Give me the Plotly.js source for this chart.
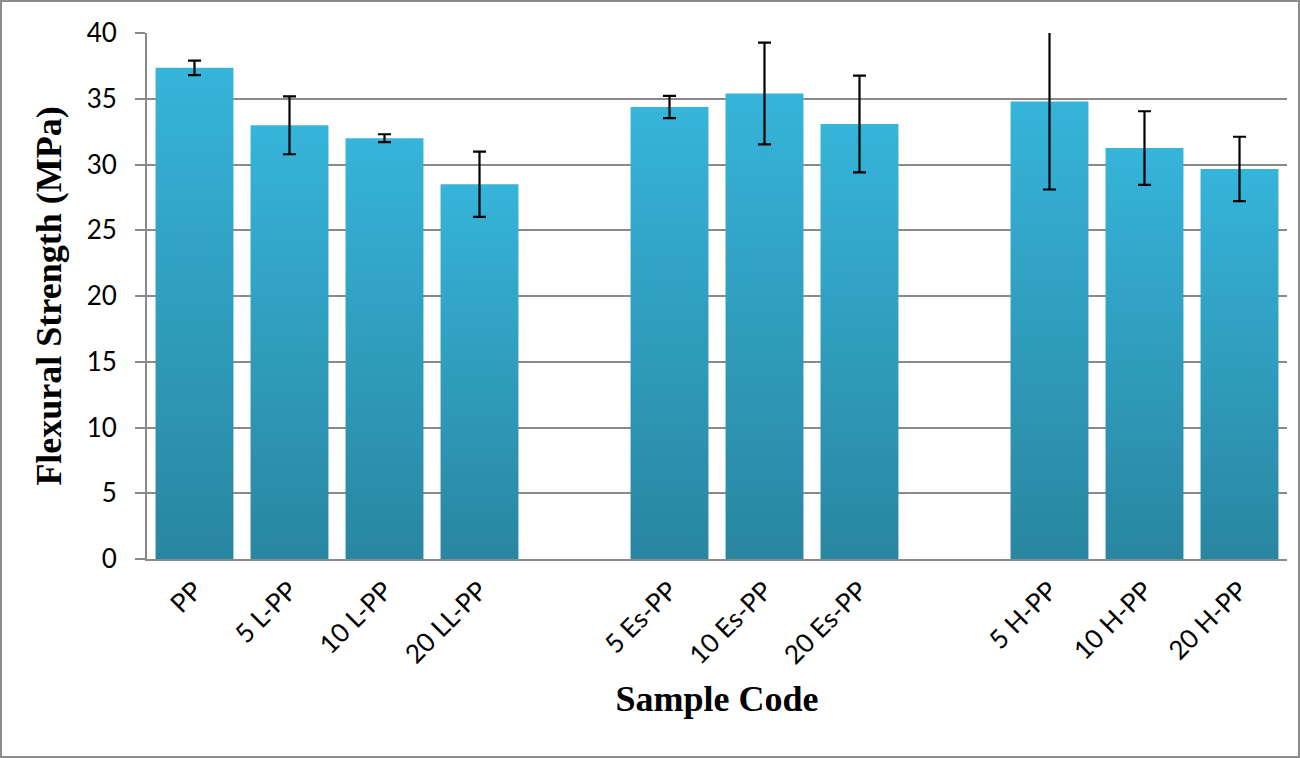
<!DOCTYPE html>
<html>
<head>
<meta charset="utf-8">
<script src="https://cdn.plot.ly/plotly-3.0.1.min.js"></script>
<style>
  html, body { margin: 0; padding: 0; background: #fff; }
  #chart { position: absolute; left: 0; top: 0; width: 1300px; height: 758px; }
  #frame { position: absolute; left: 0; top: 0; width: 1300px; height: 758px;
           box-sizing: border-box; border: 2.5px solid #8c8c8c; pointer-events: none; }
</style>
</head>
<body>
<div id="chart"></div>
<div id="frame"></div>
<script>
// Categories (blank slots separate the three groups)
const categories = ["PP", "5 L-PP", "10 L-PP", "20 LL-PP", " ",
                    "5 Es-PP", "10 Es-PP", "20 Es-PP", "  ",
                    "5 H-PP", "10 H-PP", "20 H-PP"];
// Flexural strength (MPa)
const strength = [37.35, 32.98, 32.0, 28.5, null,
                  34.37, 35.4, 33.08, null,
                  34.8, 31.25, 29.66];
// Standard deviation (error bar half-length, MPa)
const stdev = [0.55, 2.2, 0.3, 2.48, null,
               0.85, 3.87, 3.68, null,
               6.7, 2.8, 2.45];

const yTicks = [0, 5, 10, 15, 20, 25, 30, 35, 40];

const trace = {
  type: "bar",
  x: categories,
  y: strength,
  marker: { color: "#31a6c7", line: { width: 0 } },
  error_y: { type: "data", array: stdev, visible: true, color: "#000000", thickness: 2.2, width: 6.5 },
  hoverinfo: "x+y"
};

const layout = {
  width: 1300,
  height: 758,
  margin: { l: 147, r: 13, t: 33, b: 199 },
  paper_bgcolor: "#ffffff",
  plot_bgcolor: "#ffffff",
  bargap: 0.18,
  showlegend: false,
  xaxis: {
    type: "category",
    categoryorder: "array",
    categoryarray: categories,
    tickangle: -45,
    ticks: "",
    showgrid: false,
    showline: true,
    linecolor: "#8a8a8a",
    linewidth: 2,
    ticklabelstandoff: 4,
    tickfont: { family: "Lato, 'Open Sans', sans-serif", size: 26, color: "#000" },
    title: { text: "Sample Code", font: { family: "'Liberation Serif', 'Times New Roman', serif", size: 36, color: "#000", weight: "bold" }, standoff: 17 },
    fixedrange: true
  },
  yaxis: {
    range: [0, 40],
    tickvals: yTicks,
    ticktext: yTicks.map(String),
    ticks: "outside",
    ticklen: 10,
    tickwidth: 2,
    tickcolor: "#8a8a8a",
    ticklabelstandoff: 13,
    showgrid: true,
    gridcolor: "#8a8a8a",
    gridwidth: 2,
    zeroline: false,
    showline: true,
    linecolor: "#8a8a8a",
    linewidth: 2,
    tickfont: { family: "Lato, 'Open Sans', sans-serif", size: 26, color: "#000" },
    title: { text: "Flexural Strength (MPa)", font: { family: "'Liberation Serif', 'Times New Roman', serif", size: 36, color: "#000", weight: "bold" }, standoff: 14 },
    fixedrange: true
  }
};

function applyGradient() {
  const svg = document.querySelector("#chart .main-svg");
  if (!svg) return;
  let defs = svg.querySelector("defs");
  if (!defs) {
    defs = document.createElementNS("http://www.w3.org/2000/svg", "defs");
    svg.insertBefore(defs, svg.firstChild);
  }
  if (!document.getElementById("barGrad")) {
    const ns = "http://www.w3.org/2000/svg";
    const g = document.createElementNS(ns, "linearGradient");
    g.setAttribute("id", "barGrad");
    g.setAttribute("x1", "0"); g.setAttribute("y1", "0");
    g.setAttribute("x2", "0"); g.setAttribute("y2", "1");
    const s1 = document.createElementNS(ns, "stop");
    s1.setAttribute("offset", "0"); s1.setAttribute("stop-color", "#36b4da");
    const s2 = document.createElementNS(ns, "stop");
    s2.setAttribute("offset", "1"); s2.setAttribute("stop-color", "#2986a0");
    g.appendChild(s1); g.appendChild(s2);
    defs.appendChild(g);
  }
  document.querySelectorAll("#chart .bars .point path").forEach(p => {
    p.style.fill = "url(#barGrad)";
  });
}

const gd = document.getElementById("chart");
Plotly.newPlot(gd, [trace], layout, { displayModeBar: false, responsive: false })
  .then(() => {
    applyGradient();
    gd.on("plotly_afterplot", applyGradient);
  });
</script>
</body>
</html>
